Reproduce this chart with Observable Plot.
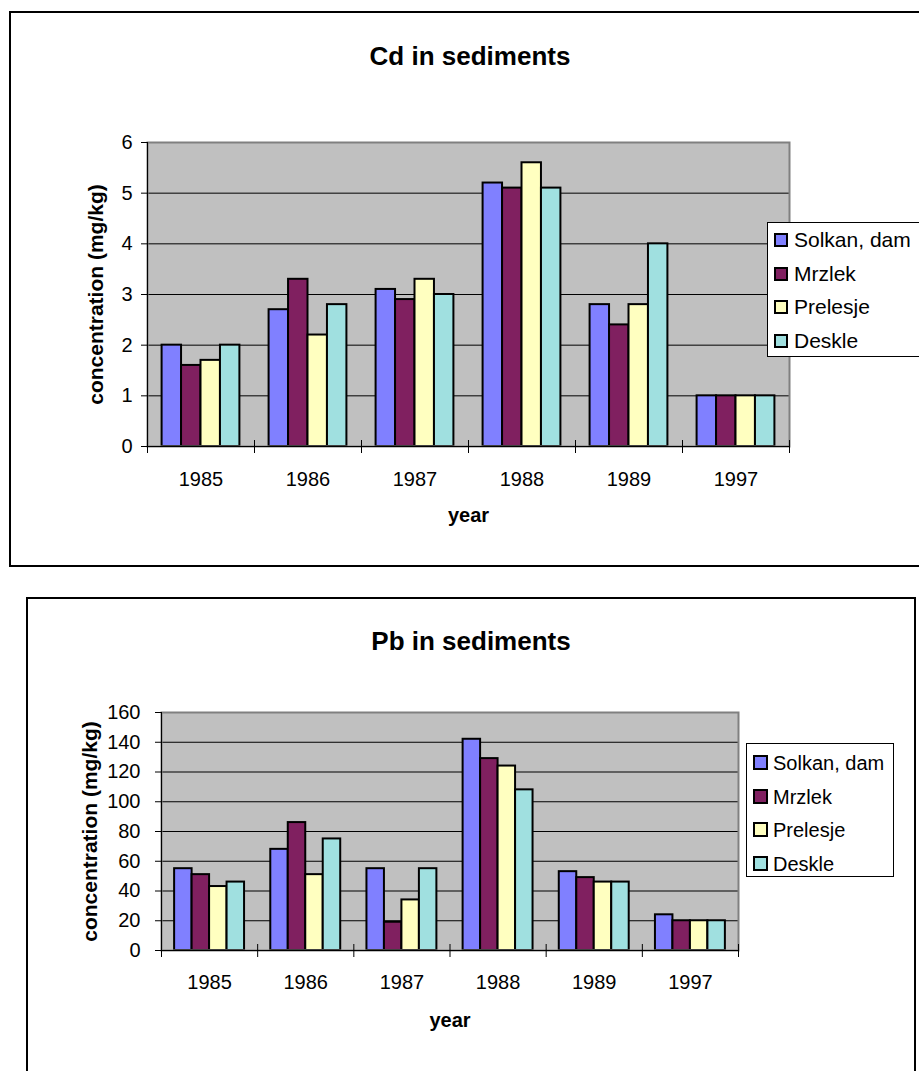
<!DOCTYPE html>
<html>
<head>
<meta charset="utf-8">
<script src="https://cdn.jsdelivr.net/npm/d3@7"></script>
<script src="https://cdn.jsdelivr.net/npm/@observablehq/plot@0.6"></script>
<style>
  body { margin: 0; background: #fff; font-family: "Liberation Sans", Arial, sans-serif; }
  #page { position: relative; width: 919px; height: 1071px; overflow: hidden; }
  .box { position: absolute; border: 2px solid #000; box-sizing: border-box; }
  .title { position: absolute; font-weight: bold; font-size: 26px; line-height: 26px; text-align: center; white-space: nowrap; width: 400px; }
  .legend { position: absolute; border: 1px solid #000; background: #fff; box-sizing: border-box; }
  .legend .sw { position: absolute; border: 2px solid #000; box-sizing: border-box; }
  .legend .lb { position: absolute; white-space: nowrap; color: #000; }
  .chart { position: absolute; left: 0; }
</style>
</head>
<body>
<div id="page"></div>
<script>
// Sampling years and sites
const years = ["1985", "1986", "1987", "1988", "1989", "1997"];
const sites = ["Solkan, dam", "Mrzlek", "Prelesje", "Deskle"];
const siteColors = ["#8080ff", "#802060", "#ffffc0", "#a0e0e0"];

// Cd concentration in sediments (mg/kg), one array per site
const cdSolkan   = [2.0, 2.7, 3.1, 5.2, 2.8, 1.0];
const cdMrzlek   = [1.6, 3.3, 2.9, 5.1, 2.4, 1.0];
const cdPrelesje = [1.7, 2.2, 3.3, 5.6, 2.8, 1.0];
const cdDeskle   = [2.0, 2.8, 3.0, 5.1, 4.0, 1.0];
const cdTicks = [0, 1, 2, 3, 4, 5, 6];

// Pb concentration in sediments (mg/kg)
const pbSolkan   = [55, 68, 55, 142, 53, 24];
const pbMrzlek   = [51, 86, 19, 129, 49, 20];
const pbPrelesje = [43, 51, 34, 124, 46, 20];
const pbDeskle   = [46, 75, 55, 108, 46, 20];
const pbTicks = [0, 20, 40, 60, 80, 100, 120, 140, 160];

const page = document.getElementById("page");
const FONT = "Liberation Sans, Arial, sans-serif";
const GAP = 1.5; // gap between clusters, in bar widths

function rows(series) {
  return years.flatMap((year, g) =>
    sites.map((site, s) => ({year, site, g, s, value: series[s][g]})));
}

function el(tag, cls, style, text) {
  const e = document.createElement(tag);
  if (cls) e.className = cls;
  Object.assign(e.style, style);
  if (text != null) e.textContent = text;
  return e;
}

function drawChart(cfg) {
  // outer frame around the whole chart
  page.appendChild(el("div", "box", {
    left: cfg.box.left + "px", top: cfg.box.top + "px",
    width: cfg.box.width + "px", height: cfg.box.height + "px"
  }));

  const data = rows(cfg.series);
  const chart = Plot.plot({
    width: 919,
    height: cfg.height,
    marginTop: cfg.margin.top,
    marginRight: cfg.margin.right,
    marginBottom: cfg.margin.bottom,
    marginLeft: cfg.margin.left,
    style: {background: "transparent", overflow: "visible", fontFamily: FONT, color: "#000"},
    x: {domain: [0, years.length]},
    y: {domain: [0, cfg.yMax]},
    color: {domain: sites, range: siteColors},
    marks: [
      Plot.frame({fill: "#c0c0c0", stroke: null}),
      Plot.gridY({ticks: cfg.yTicks, stroke: "#000", strokeOpacity: 1, strokeWidth: 1}),
      Plot.rect(data, {
        x1: d => d.g + (GAP / 2 + d.s) / (sites.length + GAP),
        x2: d => d.g + (GAP / 2 + d.s + 1) / (sites.length + GAP),
        y1: 0,
        y2: "value",
        fill: "site",
        stroke: "#000",
        strokeWidth: 2
      }),
      Plot.frame({stroke: "#808080", strokeWidth: 2}),
      Plot.ruleX([0], {stroke: "#000", strokeWidth: 1}),
      Plot.ruleY([0], {stroke: "#000", strokeWidth: 1}),
      // cross tick marks between year clusters
      Plot.ruleX(d3.range(years.length + 1), {x: d => d, y1: 0, y2: 0, insetTop: 7, insetBottom: 6, stroke: "#000"}),
      Plot.axisY({ticks: cfg.yTicks, tickSize: 6, tickPadding: cfg.yTickPadding, fontSize: cfg.yTickFont, label: null, tickFormat: d => String(d)}),
      Plot.axisX({ticks: years.map((_, g) => g + 0.5), tickSize: 0, tickPadding: cfg.xTickPadding, fontSize: 20, label: null,
                  tickFormat: d => years[Math.floor(d)]}),
      Plot.text(["concentration (mg/kg)"], {frameAnchor: "left", rotate: -90, dx: cfg.yLabelDx, textAnchor: "middle", lineAnchor: "middle",
                  fontSize: 21, fontWeight: "bold", fill: "#000"}),
      Plot.text(["year"], {frameAnchor: "bottom", dy: cfg.yearDy, textAnchor: "middle", lineAnchor: "middle", fontSize: 20, fontWeight: "bold", fill: "#000"})
    ]
  });
  chart.classList.add("chart");
  chart.style.top = cfg.top + "px";
  page.appendChild(chart);

  // chart title
  page.appendChild(el("div", "title", {left: (cfg.titleX - 200) + "px", top: (cfg.titleBaseline - 22) + "px"}, cfg.title));

  // legend, built from the chart's colour scale
  const color = chart.scale("color");
  const L = cfg.legend;
  const legend = el("div", "legend", {left: L.left + "px", top: L.top + "px", width: L.width + "px", height: L.height + "px"});
  color.domain.forEach((name, i) => {
    const swTop = L.swTop + i * L.step;
    legend.appendChild(el("div", "sw", {left: L.swLeft + "px", top: swTop + "px", width: L.sw + "px", height: L.sw + "px", background: color.range[i]}));
    const baseline = swTop + L.sw;
    const asc = L.font * 0.905, half = (L.font - L.font * 1.117) / 2;
    legend.appendChild(el("div", "lb", {left: L.textLeft + "px", top: (baseline - asc - half) + "px",
      fontSize: L.font + "px", lineHeight: L.font + "px"}, name));
  });
  page.appendChild(legend);
}

drawChart({
  title: "Cd in sediments",
  series: [cdSolkan, cdMrzlek, cdPrelesje, cdDeskle],
  yMax: 6, yTicks: cdTicks, yTickFont: 20,
  top: 0, height: 560,
  margin: {top: 142, right: 130, bottom: 114, left: 147},
  box: {left: 9, top: 11, width: 930, height: 556},
  titleX: 470, titleBaseline: 65,
  yTickPadding: 9, xTickPadding: 25, yLabelDx: -51, yearDy: 69,
  legend: {left: 767, top: 222, width: 160, height: 135, swLeft: 6, swTop: 10, sw: 14, textLeft: 26, font: 21, step: 33.5}
});

drawChart({
  title: "Pb in sediments",
  series: [pbSolkan, pbMrzlek, pbPrelesje, pbDeskle],
  yMax: 160, yTicks: pbTicks, yTickFont: 20,
  top: 600, height: 460,
  margin: {top: 112, right: 181, bottom: 110, left: 161},
  box: {left: 26, top: 597, width: 890, height: 500},
  titleX: 471, titleBaseline: 650,
  yTickPadding: 15, xTickPadding: 24, yLabelDx: -71, yearDy: 70,
  legend: {left: 746, top: 743, width: 148, height: 134, swLeft: 6, swTop: 11, sw: 15, textLeft: 26, font: 20, step: 33.5}
});
</script>
</body>
</html>
